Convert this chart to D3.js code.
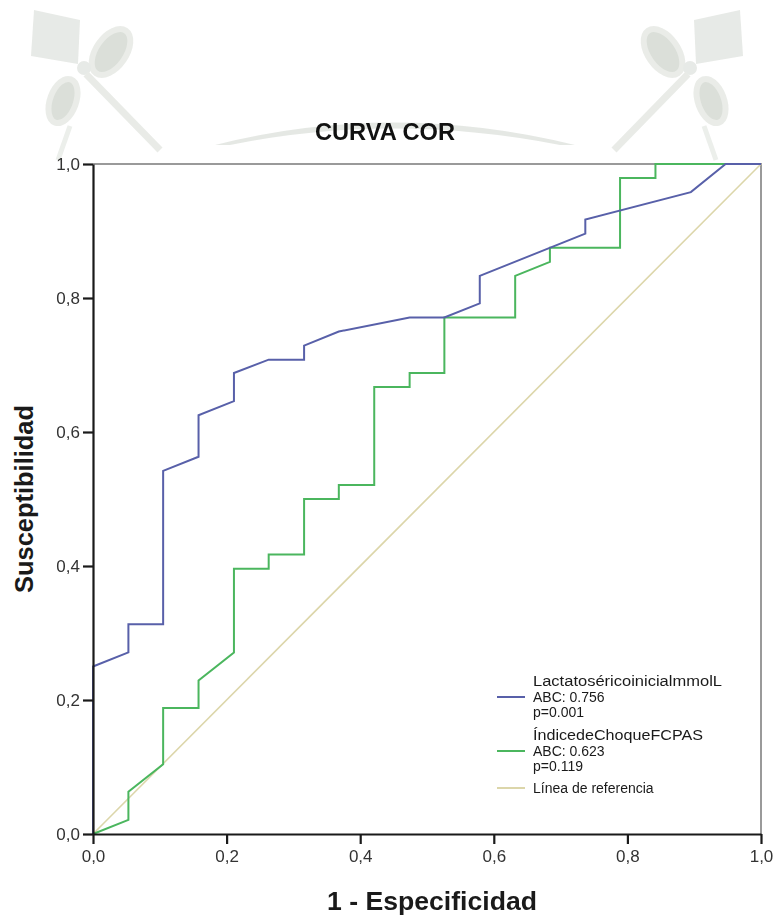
<!DOCTYPE html>
<html>
<head>
<meta charset="utf-8">
<script src="https://cdn.jsdelivr.net/npm/d3@7"></script>
<style>
  html, body { margin: 0; padding: 0; background: #fff; }
  svg { display: block; }
  text { font-family: "Liberation Sans", Arial, sans-serif; }
</style>
</head>
<body>
<svg id="chart" width="774" height="916"></svg>
<script>
// ROC coordinates: 1 - especificidad (fpr) and susceptibilidad (tpr)
const lactFpr = [0, 0, 0.053, 0.053, 0.105, 0.105, 0.158, 0.158, 0.211, 0.211, 0.263, 0.316, 0.316, 0.368, 0.474, 0.526, 0.579, 0.579, 0.737, 0.737, 0.895, 0.947, 1];
const lactTpr = [0, 0.25, 0.271, 0.313, 0.313, 0.542, 0.563, 0.625, 0.646, 0.688, 0.708, 0.708, 0.729, 0.75, 0.771, 0.771, 0.792, 0.833, 0.896, 0.917, 0.958, 1, 1];

const chqFpr = [0, 0.053, 0.053, 0.105, 0.105, 0.158, 0.158, 0.211, 0.211, 0.263, 0.263, 0.316, 0.316, 0.368, 0.368, 0.421, 0.421, 0.474, 0.474, 0.526, 0.526, 0.632, 0.632, 0.684, 0.684, 0.789, 0.789, 0.842, 0.842, 1];
const chqTpr = [0, 0.021, 0.063, 0.104, 0.188, 0.188, 0.229, 0.271, 0.396, 0.396, 0.417, 0.417, 0.5, 0.5, 0.521, 0.521, 0.667, 0.667, 0.688, 0.688, 0.771, 0.771, 0.833, 0.854, 0.875, 0.875, 0.979, 0.979, 1, 1];

const refFpr = [0, 1];
const refTpr = [0, 1];

const xTicks = [0, 0.2, 0.4, 0.6, 0.8, 1.0];
const yTicks = [0, 0.2, 0.4, 0.6, 0.8, 1.0];

const legendItems = [
  { lines: ["LactatoséricoinicialmmolL", "ABC: 0.756", "p=0.001"], color: "#5860a9" },
  { lines: ["ÍndicedeChoqueFCPAS", "ABC: 0.623", "p=0.119"], color: "#4bb65e" },
  { lines: ["Línea de referencia"], color: "#dcd6aa" }
];

const svg = d3.select("#chart");
const W = 774, H = 916;
const plot = { left: 93, right: 761, top: 164, bottom: 834 };

svg.append("rect").attr("width", W).attr("height", H).attr("fill", "#fff");

// faint seal in the page background
const wm = svg.append("g").attr("class", "watermark").attr("opacity", 0.8);
function seal(g, mirror) {
  const t = g.append("g").attr("transform", mirror ? "translate(774,0) scale(-1,1)" : null);
  t.append("path").attr("d", "M34,10 L80,20 L78,64 L31,56 Z").attr("fill", "#e2e5e1");
  t.append("ellipse").attr("cx", 111).attr("cy", 52).attr("rx", 15).attr("ry", 26)
    .attr("transform", "rotate(35,111,52)").attr("fill", "#d3d8d0").attr("stroke", "#e5e8e3").attr("stroke-width", 6);
  t.append("circle").attr("cx", 84).attr("cy", 68).attr("r", 7).attr("fill", "#e2e5e1");
  t.append("ellipse").attr("cx", 63).attr("cy", 101).attr("rx", 13).attr("ry", 23)
    .attr("transform", "rotate(20,63,101)").attr("fill", "#d3d8d0").attr("stroke", "#e5e8e3").attr("stroke-width", 6);
  t.append("path").attr("d", "M86,74 L160,150").attr("stroke", "#e4e7e2").attr("stroke-width", 7);
  t.append("path").attr("d", "M70,126 L58,160").attr("stroke", "#e8ebe7").attr("stroke-width", 5);
}
seal(wm, false);
seal(wm, true);
wm.append("path")
  .attr("d", "M215,145 Q392,100 575,145 L560,145 Q392,112 230,145 Z")
  .attr("fill", "#dfe3de");

const x = d3.scaleLinear().domain([0, 1]).range([plot.left, plot.right]);
const y = d3.scaleLinear().domain([0, 1]).range([plot.bottom, plot.top]);
const fmt = d => d3.format(".1f")(d).replace(".", ",");

// frame: top and right edges
svg.append("path")
  .attr("d", `M${x(0)},${y(1)} H${x(1)} V${y(0)}`)
  .attr("fill", "none").attr("stroke", "#9a9a9a").attr("stroke-width", 2);

const line = d3.line().x(d => x(d[0])).y(d => y(d[1]));
const zip = (a, b) => a.map((v, i) => [v, b[i]]);

svg.append("path").datum(zip(refFpr, refTpr)).attr("d", line)
  .attr("fill", "none").attr("stroke", "#dcd6aa").attr("stroke-width", 1.6);
svg.append("path").datum(zip(chqFpr, chqTpr)).attr("d", line)
  .attr("fill", "none").attr("stroke", "#4bb65e").attr("stroke-width", 2);
svg.append("path").datum(zip(lactFpr, lactTpr)).attr("d", line)
  .attr("fill", "none").attr("stroke", "#5860a9").attr("stroke-width", 2);

// axes
const xAxis = svg.append("g").attr("transform", `translate(0,${plot.bottom})`)
  .call(d3.axisBottom(x).tickValues(xTicks).tickFormat(fmt).tickSize(10).tickSizeOuter(0).tickPadding(6));
const yAxis = svg.append("g").attr("transform", `translate(${plot.left},0)`)
  .call(d3.axisLeft(y).tickValues(yTicks).tickFormat(fmt).tickSize(10).tickSizeOuter(0).tickPadding(3));
[xAxis, yAxis].forEach(a => {
  a.select(".domain").attr("stroke", "#1a1a1a").attr("stroke-width", 2.2);
  a.selectAll(".tick line").attr("stroke", "#1a1a1a").attr("stroke-width", 2.2);
  a.selectAll(".tick text").attr("fill", "#333").style("font-size", "17px")
    .style("font-family", "'Liberation Sans', Arial, sans-serif");
});

// titles
svg.append("text").attr("x", 385).attr("y", 140).attr("text-anchor", "middle")
  .attr("font-size", 24).attr("font-weight", "bold").attr("fill", "#111")
  .attr("textLength", 140).attr("lengthAdjust", "spacingAndGlyphs").text("CURVA COR");

svg.append("text").attr("x", 432).attr("y", 910).attr("text-anchor", "middle")
  .attr("font-size", 25).attr("font-weight", "bold").attr("fill", "#1a1a1a")
  .attr("textLength", 210).attr("lengthAdjust", "spacingAndGlyphs").text("1 - Especificidad");

svg.append("text").attr("transform", "translate(33,499) rotate(-90)").attr("text-anchor", "middle")
  .attr("font-size", 25).attr("font-weight", "bold").attr("fill", "#1a1a1a")
  .attr("textLength", 188).attr("lengthAdjust", "spacingAndGlyphs").text("Susceptibilidad");

// legend
const lg = svg.append("g").attr("transform", "translate(497,0)");
const baselines = [[686, 701.5, 717], [740, 755.5, 771], [793]];
const swatchY = [697, 751, 788];
legendItems.forEach((item, i) => {
  lg.append("line").attr("x1", 0).attr("x2", 28).attr("y1", swatchY[i]).attr("y2", swatchY[i])
    .attr("stroke", item.color).attr("stroke-width", 2);
  item.lines.forEach((t, j) => {
    const tx = lg.append("text").attr("x", 36).attr("y", baselines[i][j])
      .attr("font-size", 14).attr("fill", "#1a1a1a").text(t);
    if (j === 0 && i === 0) tx.attr("textLength", 189).attr("lengthAdjust", "spacingAndGlyphs");
    if (j === 0 && i === 1) tx.attr("textLength", 170).attr("lengthAdjust", "spacingAndGlyphs");
  });
});
</script>
</body>
</html>
